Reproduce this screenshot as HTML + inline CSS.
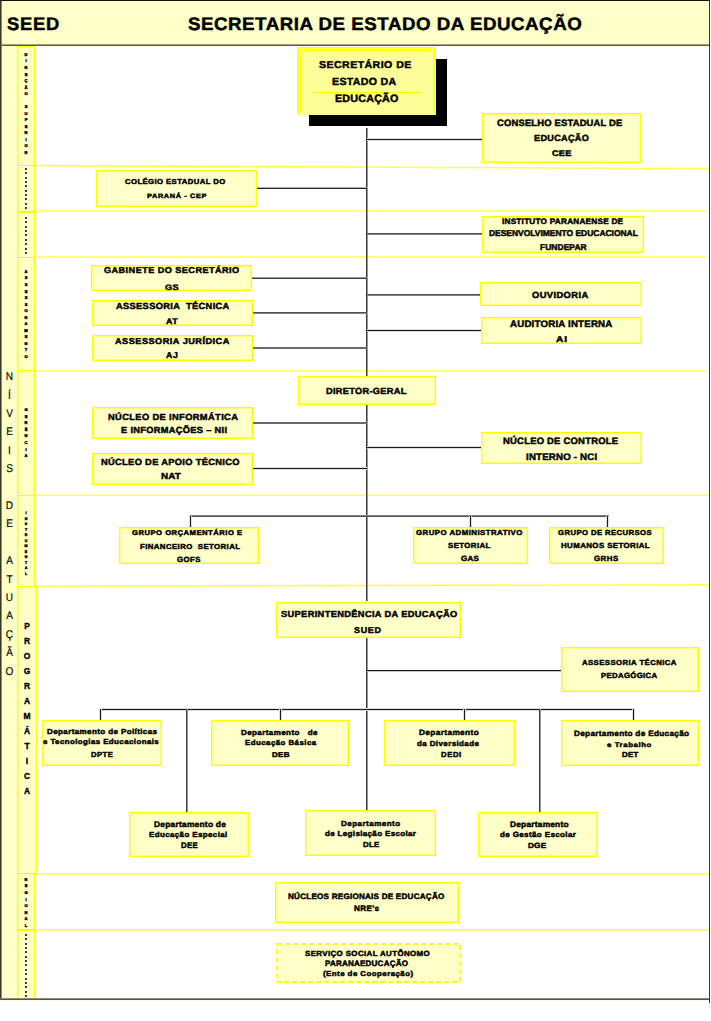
<!DOCTYPE html>
<html><head><meta charset="utf-8"><style>
*{margin:0;padding:0;box-sizing:border-box}
html,body{width:711px;height:1021px;background:#fff;overflow:hidden;position:relative;font-family:"Liberation Sans",sans-serif}
.frame{position:absolute;left:0;top:0;width:710px;height:998px;border-left:1px solid #3a3a28;border-top:1px solid #111;border-right:1px solid #333}
.fb1{position:absolute;left:0;top:998px;width:709px;height:1px;background:#8c8c80}
.fb2{position:absolute;left:0;top:999px;width:709px;height:1px;background:#55554a}
.fb3{position:absolute;left:1px;top:1000px;width:708px;height:1px;background:#fbfbe4}
.fr2{position:absolute;left:709px;top:998px;width:1px;height:5px;background:#333}
.hdr{position:absolute;left:1px;top:1px;width:708px;height:43px;background:#FFFFC8}
.hdrline{position:absolute;left:1px;top:44px;width:708px;height:2px;background:linear-gradient(#a4a47e 50%,#5e5e28 50%)}
.lcol{position:absolute;left:1px;top:46px;width:34px;height:953px;background:#FFFFC8}
.cb{position:absolute;left:17px;width:18px;background:#FFFFC8;border:1px solid #FFFF00;box-shadow:inset 1px 0 0 0 rgba(255,255,0,0.45)}
.b{position:absolute;background:#FFFFC8;border:1px solid #FFFF00;box-shadow:inset 0 0 0 1px rgba(255,255,0,0.45)}
.b.sec{background:#FFFF99;border:2px solid #FFFF28;border-bottom:none;box-shadow:none}
.si{position:absolute;background:#FFFF10}
.b.dash{border:2px dashed #FFFF00;box-shadow:none}
.shadow{position:absolute;left:309px;top:59px;width:138px;height:67px;background:#000}
.ln{position:absolute;background:#262626}
.bands{position:absolute;left:0;top:0}
.t{position:absolute;white-space:nowrap;font-weight:bold;color:#000;transform-origin:0 0;text-rendering:geometricPrecision;-webkit-text-stroke:0.45px #000}
.lv{position:absolute;left:5px;width:9px;text-align:center;color:#000;transform:scaleX(0.9);text-rendering:geometricPrecision;-webkit-text-stroke:0.15px #000}
.lf2{position:absolute;left:1px;top:1px;width:1px;height:998px;background:#8c8c66}
.lp{position:absolute;left:22.5px;width:9px;text-align:center;color:#000;font-weight:bold;-webkit-text-stroke:0.35px #000}
.dt{position:absolute;background:#1a1a1a}
.tl{position:absolute;left:21px;width:10px;text-align:center;font-weight:bold;color:#000;text-rendering:geometricPrecision;-webkit-text-stroke:0.4px #000}
</style></head><body>
<div class="hdr"></div>
<div class="lcol"></div>
<div class="cb" style="top:46px;height:120px"></div>
<div class="cb" style="top:165px;height:47px"></div>
<div class="cb" style="top:212px;height:46px"></div>
<div class="cb" style="top:257px;height:114px"></div>
<div class="cb" style="top:370px;height:126px"></div>
<div class="cb" style="top:495px;height:92px"></div>
<div class="cb" style="top:586px;height:288px;width:19.5px"></div>
<div class="cb" style="top:873px;height:57px"></div>
<div class="cb" style="top:930px;height:71px"></div>
<svg class="bands" width="711" height="1021" viewBox="0 0 711 1021">
<line x1="35" y1="165.6" x2="709" y2="168.7" stroke="#FFFF50" stroke-width="1.6"/>
<line x1="35" y1="211" x2="706" y2="211" stroke="#FFFF50" stroke-width="1.6"/>
<line x1="35" y1="257" x2="706" y2="257" stroke="#FFFF50" stroke-width="1.6"/>
<line x1="35" y1="371" x2="706" y2="371" stroke="#FFFF50" stroke-width="1.6"/>
<line x1="35" y1="495.3" x2="709" y2="495.3" stroke="#FFFF50" stroke-width="1.6"/>
<line x1="35" y1="586.3" x2="709" y2="584.7" stroke="#FFFF50" stroke-width="1.6"/>
<line x1="35" y1="874.0" x2="709" y2="874.0" stroke="#FFFF50" stroke-width="1.6"/>
<line x1="35" y1="929.7" x2="709" y2="929.7" stroke="#FFFF50" stroke-width="1.6"/>
</svg>
<div class="shadow"></div>
<div class="ln" style="left:366px;top:128px;width:1px;height:473px;background:#3c3c3c"></div>
<div class="ln" style="left:367px;top:128px;width:1px;height:473px;background:#989898"></div>
<div class="ln" style="left:366px;top:638px;width:1px;height:172px;background:#3c3c3c"></div>
<div class="ln" style="left:367px;top:638px;width:1px;height:172px;background:#989898"></div>
<div class="ln" style="left:367px;top:138px;width:116px;height:1px;background:#dddddd"></div>
<div class="ln" style="left:367px;top:139px;width:116px;height:1px;background:#191919"></div>
<div class="ln" style="left:367px;top:140px;width:116px;height:1px;background:#dddddd"></div>
<div class="ln" style="left:257px;top:187px;width:110px;height:1px;background:#afafaf"></div>
<div class="ln" style="left:257px;top:188px;width:110px;height:1px;background:#252525"></div>
<div class="ln" style="left:367px;top:233px;width:117px;height:1px;background:#535353"></div>
<div class="ln" style="left:367px;top:234px;width:117px;height:1px;background:#818181"></div>
<div class="ln" style="left:252px;top:277px;width:115px;height:1px;background:#989898"></div>
<div class="ln" style="left:252px;top:278px;width:115px;height:1px;background:#3c3c3c"></div>
<div class="ln" style="left:253px;top:312px;width:114px;height:1px;background:#535353"></div>
<div class="ln" style="left:253px;top:313px;width:114px;height:1px;background:#818181"></div>
<div class="ln" style="left:253px;top:347px;width:114px;height:1px;background:#6a6a6a"></div>
<div class="ln" style="left:253px;top:348px;width:114px;height:1px;background:#6a6a6a"></div>
<div class="ln" style="left:367px;top:294px;width:114px;height:1px;background:#535353"></div>
<div class="ln" style="left:367px;top:295px;width:114px;height:1px;background:#818181"></div>
<div class="ln" style="left:367px;top:329px;width:115px;height:1px;background:#dddddd"></div>
<div class="ln" style="left:367px;top:330px;width:115px;height:1px;background:#191919"></div>
<div class="ln" style="left:367px;top:331px;width:115px;height:1px;background:#dddddd"></div>
<div class="ln" style="left:253px;top:422px;width:114px;height:1px;background:#6a6a6a"></div>
<div class="ln" style="left:253px;top:423px;width:114px;height:1px;background:#6a6a6a"></div>
<div class="ln" style="left:253px;top:467px;width:114px;height:1px;background:#dddddd"></div>
<div class="ln" style="left:253px;top:468px;width:114px;height:1px;background:#191919"></div>
<div class="ln" style="left:253px;top:469px;width:114px;height:1px;background:#dddddd"></div>
<div class="ln" style="left:367px;top:446px;width:115px;height:1px;background:#dddddd"></div>
<div class="ln" style="left:367px;top:447px;width:115px;height:1px;background:#191919"></div>
<div class="ln" style="left:367px;top:448px;width:115px;height:1px;background:#dddddd"></div>
<div class="ln" style="left:190px;top:515px;width:419px;height:1px;background:#818181"></div>
<div class="ln" style="left:190px;top:516px;width:419px;height:1px;background:#535353"></div>
<div class="ln" style="left:189px;top:516px;width:1px;height:11px;background:#dddddd"></div>
<div class="ln" style="left:190px;top:516px;width:1px;height:11px;background:#191919"></div>
<div class="ln" style="left:191px;top:516px;width:1px;height:11px;background:#dddddd"></div>
<div class="ln" style="left:469px;top:516px;width:1px;height:11px;background:#dddddd"></div>
<div class="ln" style="left:470px;top:516px;width:1px;height:11px;background:#191919"></div>
<div class="ln" style="left:471px;top:516px;width:1px;height:11px;background:#dddddd"></div>
<div class="ln" style="left:606px;top:516px;width:1px;height:11px;background:#dddddd"></div>
<div class="ln" style="left:607px;top:516px;width:1px;height:11px;background:#191919"></div>
<div class="ln" style="left:608px;top:516px;width:1px;height:11px;background:#dddddd"></div>
<div class="ln" style="left:367px;top:670px;width:195px;height:1px;background:#191919"></div>
<div class="ln" style="left:367px;top:671px;width:195px;height:1px;background:#c6c6c6"></div>
<div class="ln" style="left:100px;top:708px;width:535px;height:1px;background:#dddddd"></div>
<div class="ln" style="left:100px;top:709px;width:535px;height:1px;background:#191919"></div>
<div class="ln" style="left:100px;top:710px;width:535px;height:1px;background:#dddddd"></div>
<div class="ln" style="left:99px;top:709px;width:1px;height:11px;background:#dddddd"></div>
<div class="ln" style="left:100px;top:709px;width:1px;height:11px;background:#191919"></div>
<div class="ln" style="left:101px;top:709px;width:1px;height:11px;background:#dddddd"></div>
<div class="ln" style="left:279px;top:709px;width:1px;height:11px;background:#dddddd"></div>
<div class="ln" style="left:280px;top:709px;width:1px;height:11px;background:#191919"></div>
<div class="ln" style="left:281px;top:709px;width:1px;height:11px;background:#dddddd"></div>
<div class="ln" style="left:463px;top:709px;width:1px;height:11px;background:#dddddd"></div>
<div class="ln" style="left:464px;top:709px;width:1px;height:11px;background:#191919"></div>
<div class="ln" style="left:465px;top:709px;width:1px;height:11px;background:#dddddd"></div>
<div class="ln" style="left:632px;top:709px;width:1px;height:11px;background:#dddddd"></div>
<div class="ln" style="left:633px;top:709px;width:1px;height:11px;background:#191919"></div>
<div class="ln" style="left:634px;top:709px;width:1px;height:11px;background:#dddddd"></div>
<div class="ln" style="left:186px;top:709px;width:1px;height:103px;background:#3c3c3c"></div>
<div class="ln" style="left:187px;top:709px;width:1px;height:103px;background:#989898"></div>
<div class="ln" style="left:539px;top:709px;width:1px;height:103px;background:#3c3c3c"></div>
<div class="ln" style="left:540px;top:709px;width:1px;height:103px;background:#989898"></div>
<div class="b sec" style="left:297px;top:47px;width:139px;height:68px"></div>
<div class="b std" style="left:482px;top:113px;width:159px;height:50px"></div>
<div class="b std" style="left:96px;top:170px;width:161px;height:37px"></div>
<div class="b std" style="left:482px;top:216px;width:162px;height:37px"></div>
<div class="b std" style="left:91px;top:265px;width:161px;height:26px"></div>
<div class="b std" style="left:92px;top:300px;width:161px;height:26px"></div>
<div class="b std" style="left:92px;top:335px;width:161px;height:26px"></div>
<div class="b std" style="left:480px;top:282px;width:162px;height:24px"></div>
<div class="b std" style="left:481px;top:317px;width:161px;height:27px"></div>
<div class="b std" style="left:298px;top:376px;width:138px;height:29px"></div>
<div class="b std" style="left:92px;top:407px;width:161px;height:32px"></div>
<div class="b std" style="left:92px;top:453px;width:161px;height:32px"></div>
<div class="b std" style="left:481px;top:432px;width:161px;height:32px"></div>
<div class="b std" style="left:119px;top:527px;width:140px;height:37px"></div>
<div class="b std" style="left:413px;top:527px;width:115px;height:37px"></div>
<div class="b std" style="left:549px;top:527px;width:115px;height:37px"></div>
<div class="b std" style="left:276px;top:602px;width:185px;height:36px"></div>
<div class="b std" style="left:561px;top:647px;width:138px;height:45px"></div>
<div class="b std" style="left:42px;top:720px;width:120px;height:46px"></div>
<div class="b std" style="left:211px;top:720px;width:138px;height:46px"></div>
<div class="b std" style="left:384px;top:720px;width:131px;height:46px"></div>
<div class="b std" style="left:561px;top:720px;width:138px;height:46px"></div>
<div class="b std" style="left:129px;top:812px;width:120px;height:45px"></div>
<div class="b std" style="left:305px;top:810px;width:131px;height:46px"></div>
<div class="b std" style="left:478px;top:812px;width:120px;height:45px"></div>
<div class="b std" style="left:275px;top:882px;width:184px;height:41px"></div>
<svg style="position:absolute;left:276px;top:943px" width="185" height="40"><rect x="1" y="1" width="183" height="38" fill="#FFFFC8" stroke="#FFFF00" stroke-width="1.8" stroke-dasharray="5 3"/></svg>
<div class="secline" style="position:absolute;left:312px;top:92px;width:110px;height:1px;background:#FFFF00"></div>
<div class="si" style="left:300px;top:50px;width:134px;height:1px"></div>
<div class="si" style="left:300px;top:50px;width:1px;height:62px"></div>
<div class="si" style="left:433px;top:50px;width:1px;height:62px"></div>
<div class="lv" style="top:372.10px;font-size:11.19px;line-height:11.19px">N</div>
<div class="lv" style="top:390.50px;font-size:11.19px;line-height:11.19px">Í</div>
<div class="lv" style="top:408.90px;font-size:11.19px;line-height:11.19px">V</div>
<div class="lv" style="top:427.30px;font-size:11.19px;line-height:11.19px">E</div>
<div class="lv" style="top:445.70px;font-size:11.19px;line-height:11.19px">I</div>
<div class="lv" style="top:464.10px;font-size:11.19px;line-height:11.19px">S</div>
<div class="lv" style="top:500.90px;font-size:11.19px;line-height:11.19px">D</div>
<div class="lv" style="top:519.30px;font-size:11.19px;line-height:11.19px">E</div>
<div class="lv" style="top:556.10px;font-size:11.19px;line-height:11.19px">A</div>
<div class="lv" style="top:574.50px;font-size:11.19px;line-height:11.19px">T</div>
<div class="lv" style="top:592.90px;font-size:11.19px;line-height:11.19px">U</div>
<div class="lv" style="top:611.30px;font-size:11.19px;line-height:11.19px">A</div>
<div class="lv" style="top:629.70px;font-size:11.19px;line-height:11.19px">Ç</div>
<div class="lv" style="top:648.10px;font-size:11.19px;line-height:11.19px">Ã</div>
<div class="lv" style="top:666.50px;font-size:11.19px;line-height:11.19px">O</div>
<div class="lp" style="top:622.40px;font-size:8.43px;line-height:8.43px">P</div>
<div class="lp" style="top:637.40px;font-size:8.43px;line-height:8.43px">R</div>
<div class="lp" style="top:652.40px;font-size:8.43px;line-height:8.43px">O</div>
<div class="lp" style="top:667.40px;font-size:8.43px;line-height:8.43px">G</div>
<div class="lp" style="top:682.40px;font-size:8.43px;line-height:8.43px">R</div>
<div class="lp" style="top:697.40px;font-size:8.43px;line-height:8.43px">A</div>
<div class="lp" style="top:712.40px;font-size:8.43px;line-height:8.43px">M</div>
<div class="lp" style="top:727.40px;font-size:8.43px;line-height:8.43px">Á</div>
<div class="lp" style="top:742.40px;font-size:8.43px;line-height:8.43px">T</div>
<div class="lp" style="top:757.40px;font-size:8.43px;line-height:8.43px">I</div>
<div class="lp" style="top:772.40px;font-size:8.43px;line-height:8.43px">C</div>
<div class="lp" style="top:787.40px;font-size:8.43px;line-height:8.43px">A</div>
<div class="tl" style="top:52.95px;font-size:4.1px;line-height:4.1px">D</div>
<div class="tl" style="top:59.48px;font-size:4.1px;line-height:4.1px">I</div>
<div class="tl" style="top:66.01px;font-size:4.1px;line-height:4.1px">R</div>
<div class="tl" style="top:72.54px;font-size:4.1px;line-height:4.1px">E</div>
<div class="tl" style="top:79.07px;font-size:4.1px;line-height:4.1px">Ç</div>
<div class="tl" style="top:85.60px;font-size:4.1px;line-height:4.1px">Ã</div>
<div class="tl" style="top:92.13px;font-size:4.1px;line-height:4.1px">O</div>
<div class="tl" style="top:105.19px;font-size:4.1px;line-height:4.1px">S</div>
<div class="tl" style="top:111.72px;font-size:4.1px;line-height:4.1px">U</div>
<div class="tl" style="top:118.25px;font-size:4.1px;line-height:4.1px">P</div>
<div class="tl" style="top:124.78px;font-size:4.1px;line-height:4.1px">E</div>
<div class="tl" style="top:131.31px;font-size:4.1px;line-height:4.1px">R</div>
<div class="tl" style="top:137.84px;font-size:4.1px;line-height:4.1px">I</div>
<div class="tl" style="top:144.37px;font-size:4.1px;line-height:4.1px">O</div>
<div class="tl" style="top:150.90px;font-size:4.1px;line-height:4.1px">R</div>
<div class="tl" style="top:269.95px;font-size:4.1px;line-height:4.1px">A</div>
<div class="tl" style="top:276.47px;font-size:4.1px;line-height:4.1px">S</div>
<div class="tl" style="top:282.99px;font-size:4.1px;line-height:4.1px">S</div>
<div class="tl" style="top:289.51px;font-size:4.1px;line-height:4.1px">E</div>
<div class="tl" style="top:296.03px;font-size:4.1px;line-height:4.1px">S</div>
<div class="tl" style="top:302.55px;font-size:4.1px;line-height:4.1px">S</div>
<div class="tl" style="top:309.07px;font-size:4.1px;line-height:4.1px">O</div>
<div class="tl" style="top:315.59px;font-size:4.1px;line-height:4.1px">R</div>
<div class="tl" style="top:322.11px;font-size:4.1px;line-height:4.1px">A</div>
<div class="tl" style="top:328.63px;font-size:4.1px;line-height:4.1px">M</div>
<div class="tl" style="top:335.15px;font-size:4.1px;line-height:4.1px">E</div>
<div class="tl" style="top:341.67px;font-size:4.1px;line-height:4.1px">N</div>
<div class="tl" style="top:348.19px;font-size:4.1px;line-height:4.1px">T</div>
<div class="tl" style="top:354.71px;font-size:4.1px;line-height:4.1px">O</div>
<div class="tl" style="top:408.05px;font-size:4.1px;line-height:4.1px">G</div>
<div class="tl" style="top:414.65px;font-size:4.1px;line-height:4.1px">E</div>
<div class="tl" style="top:421.25px;font-size:4.1px;line-height:4.1px">R</div>
<div class="tl" style="top:427.85px;font-size:4.1px;line-height:4.1px">Ê</div>
<div class="tl" style="top:434.45px;font-size:4.1px;line-height:4.1px">N</div>
<div class="tl" style="top:441.05px;font-size:4.1px;line-height:4.1px">C</div>
<div class="tl" style="top:447.65px;font-size:4.1px;line-height:4.1px">I</div>
<div class="tl" style="top:454.25px;font-size:4.1px;line-height:4.1px">A</div>
<div class="tl" style="top:512.30px;font-size:3.6px;line-height:3.6px">I</div>
<div class="tl" style="top:517.78px;font-size:3.6px;line-height:3.6px">N</div>
<div class="tl" style="top:523.26px;font-size:3.6px;line-height:3.6px">S</div>
<div class="tl" style="top:528.74px;font-size:3.6px;line-height:3.6px">T</div>
<div class="tl" style="top:534.22px;font-size:3.6px;line-height:3.6px">R</div>
<div class="tl" style="top:539.70px;font-size:3.6px;line-height:3.6px">U</div>
<div class="tl" style="top:545.18px;font-size:3.6px;line-height:3.6px">M</div>
<div class="tl" style="top:550.66px;font-size:3.6px;line-height:3.6px">E</div>
<div class="tl" style="top:556.14px;font-size:3.6px;line-height:3.6px">N</div>
<div class="tl" style="top:561.62px;font-size:3.6px;line-height:3.6px">T</div>
<div class="tl" style="top:567.10px;font-size:3.6px;line-height:3.6px">A</div>
<div class="tl" style="top:572.58px;font-size:3.6px;line-height:3.6px">L</div>
<div class="tl" style="top:877.85px;font-size:4.1px;line-height:4.1px">R</div>
<div class="tl" style="top:884.45px;font-size:4.1px;line-height:4.1px">E</div>
<div class="tl" style="top:891.05px;font-size:4.1px;line-height:4.1px">G</div>
<div class="tl" style="top:897.65px;font-size:4.1px;line-height:4.1px">I</div>
<div class="tl" style="top:904.25px;font-size:4.1px;line-height:4.1px">O</div>
<div class="tl" style="top:910.85px;font-size:4.1px;line-height:4.1px">N</div>
<div class="tl" style="top:917.45px;font-size:4.1px;line-height:4.1px">A</div>
<div class="tl" style="top:924.05px;font-size:4.1px;line-height:4.1px">L</div>
<div class="dt" style="top:168px;width:2px;height:2px;left:25.00px;background:#3c3c3c"></div>
<div class="dt" style="top:172px;width:2px;height:2px;left:25.00px;background:#3c3c3c"></div>
<div class="dt" style="top:177px;width:2px;height:2px;left:25.00px;background:#3c3c3c"></div>
<div class="dt" style="top:181px;width:2px;height:2px;left:25.00px;background:#3c3c3c"></div>
<div class="dt" style="top:185px;width:2px;height:2px;left:25.00px;background:#3c3c3c"></div>
<div class="dt" style="top:190px;width:2px;height:2px;left:25.00px;background:#3c3c3c"></div>
<div class="dt" style="top:194px;width:2px;height:2px;left:25.00px;background:#3c3c3c"></div>
<div class="dt" style="top:198px;width:2px;height:2px;left:25.00px;background:#3c3c3c"></div>
<div class="dt" style="top:203px;width:2px;height:2px;left:25.00px;background:#3c3c3c"></div>
<div class="dt" style="top:207px;width:2px;height:2px;left:25.00px;background:#3c3c3c"></div>
<div class="dt" style="top:217px;width:2px;height:2px;left:25.00px;background:#3c3c3c"></div>
<div class="dt" style="top:221px;width:2px;height:2px;left:25.00px;background:#3c3c3c"></div>
<div class="dt" style="top:226px;width:2px;height:2px;left:25.00px;background:#3c3c3c"></div>
<div class="dt" style="top:230px;width:2px;height:2px;left:25.00px;background:#3c3c3c"></div>
<div class="dt" style="top:234px;width:2px;height:2px;left:25.00px;background:#3c3c3c"></div>
<div class="dt" style="top:239px;width:2px;height:2px;left:25.00px;background:#3c3c3c"></div>
<div class="dt" style="top:243px;width:2px;height:2px;left:25.00px;background:#3c3c3c"></div>
<div class="dt" style="top:248px;width:2px;height:2px;left:25.00px;background:#3c3c3c"></div>
<div class="dt" style="top:252px;width:2px;height:2px;left:25.00px;background:#3c3c3c"></div>
<div class="dt" style="top:934px;width:2px;height:2px;left:25.00px;background:#3c3c3c"></div>
<div class="dt" style="top:938px;width:2px;height:2px;left:25.00px;background:#3c3c3c"></div>
<div class="dt" style="top:943px;width:2px;height:2px;left:25.00px;background:#3c3c3c"></div>
<div class="dt" style="top:947px;width:2px;height:2px;left:25.00px;background:#3c3c3c"></div>
<div class="dt" style="top:951px;width:2px;height:2px;left:25.00px;background:#3c3c3c"></div>
<div class="dt" style="top:956px;width:2px;height:2px;left:25.00px;background:#3c3c3c"></div>
<div class="dt" style="top:960px;width:2px;height:2px;left:25.00px;background:#3c3c3c"></div>
<div class="dt" style="top:964px;width:2px;height:2px;left:25.00px;background:#3c3c3c"></div>
<div class="dt" style="top:969px;width:2px;height:2px;left:25.00px;background:#3c3c3c"></div>
<div class="dt" style="top:973px;width:2px;height:2px;left:25.00px;background:#3c3c3c"></div>
<div class="dt" style="top:978px;width:2px;height:2px;left:25.00px;background:#3c3c3c"></div>
<div class="dt" style="top:982px;width:2px;height:2px;left:25.00px;background:#3c3c3c"></div>
<div class="dt" style="top:986px;width:2px;height:2px;left:25.00px;background:#3c3c3c"></div>
<div class="dt" style="top:991px;width:2px;height:2px;left:25.00px;background:#3c3c3c"></div>
<div class="dt" style="top:995px;width:2px;height:2px;left:25.00px;background:#3c3c3c"></div>
<div class="t" id="t0" style="left:6.64px;top:15.36px;font-size:18.02px;line-height:18.02px;letter-spacing:0.708px;transform:scaleX(1.0213)">SEED</div>
<div class="t" id="t1" style="left:187.52px;top:15.36px;font-size:18.02px;line-height:18.02px;letter-spacing:0.494px;transform:scaleX(1.0399)">SECRETARIA DE ESTADO DA EDUCAÇÃO</div>
<div class="t" id="t2" style="left:318.83px;top:61.11px;font-size:9.98px;line-height:9.98px;letter-spacing:0.427px;transform:scaleX(1.0593)">SECRETÁRIO DE</div>
<div class="t" id="t3" style="left:332.38px;top:78.20px;font-size:10.30px;line-height:10.30px;letter-spacing:0.314px;transform:scaleX(1.0294)">ESTADO DA</div>
<div class="t" id="t4" style="left:334.90px;top:93.74px;font-size:10.65px;line-height:10.65px;letter-spacing:0.194px;transform:scaleX(1.0090)">EDUCAÇÃO</div>
<div class="t" id="t5" style="left:497.02px;top:118.96px;font-size:9.21px;line-height:9.21px;letter-spacing:0.171px;transform:scaleX(1.0229)">CONSELHO ESTADUAL DE</div>
<div class="t" id="t6" style="left:533.91px;top:133.91px;font-size:8.85px;line-height:8.85px;letter-spacing:0.319px;transform:scaleX(1.0281)">EDUCAÇÃO</div>
<div class="t" id="t7" style="left:551.95px;top:149.53px;font-size:8.21px;line-height:8.21px;letter-spacing:0.155px;transform:scaleX(1.1261)">CEE</div>
<div class="t" id="t8" style="left:124.79px;top:179.36px;font-size:7.13px;line-height:7.13px;letter-spacing:0.386px;transform:scaleX(1.0818)">COLÉGIO ESTADUAL DO</div>
<div class="t" id="t9" style="left:147.27px;top:194.03px;font-size:6.36px;line-height:6.36px;letter-spacing:0.576px;transform:scaleX(1.1445)">PARANÁ - CEP</div>
<div class="t" id="t10" style="left:501.70px;top:218.10px;font-size:7.86px;line-height:7.86px;letter-spacing:0.232px;transform:scaleX(1.0416)">INSTITUTO PARANAENSE DE</div>
<div class="t" id="t11" style="left:488.53px;top:229.39px;font-size:8.51px;line-height:8.51px;letter-spacing:-0.012px;transform:scaleX(0.9954)">DESENVOLVIMENTO EDUCACIONAL</div>
<div class="t" id="t12" style="left:539.97px;top:243.11px;font-size:8.51px;line-height:8.51px;letter-spacing:0.054px;transform:scaleX(0.9933)">FUNDEPAR</div>
<div class="t" id="t13" style="left:103.81px;top:266.38px;font-size:8.52px;line-height:8.52px;letter-spacing:0.412px;transform:scaleX(1.0726)">GABINETE DO SECRETÁRIO</div>
<div class="t" id="t14" style="left:164.85px;top:283.53px;font-size:8.04px;line-height:8.04px;letter-spacing:0.416px;transform:scaleX(1.1443)">GS</div>
<div class="t" id="t15" style="left:115.66px;top:302.07px;font-size:8.82px;line-height:8.82px;letter-spacing:0.318px;transform:scaleX(1.0533)">ASSESSORIA  TÉCNICA</div>
<div class="t" id="t16" style="left:165.99px;top:317.58px;font-size:8.05px;line-height:8.05px;letter-spacing:0.505px;transform:scaleX(1.1046)">AT</div>
<div class="t" id="t17" style="left:114.55px;top:337.33px;font-size:8.51px;line-height:8.51px;letter-spacing:0.434px;transform:scaleX(1.0811)">ASSESSORIA JURÍDICA</div>
<div class="t" id="t18" style="left:165.98px;top:351.39px;font-size:8.51px;line-height:8.51px;letter-spacing:0.731px;transform:scaleX(1.0280)">AJ</div>
<div class="t" id="t19" style="left:532.28px;top:290.89px;font-size:8.87px;line-height:8.87px;letter-spacing:0.385px;transform:scaleX(1.0542)">OUVIDORIA</div>
<div class="t" id="t20" style="left:509.98px;top:320.09px;font-size:9.48px;line-height:9.48px;letter-spacing:0.186px;transform:scaleX(1.0253)">AUDITORIA INTERNA</div>
<div class="t" id="t21" style="left:555.83px;top:334.82px;font-size:8.52px;line-height:8.52px;letter-spacing:0.769px;transform:scaleX(1.1973)">AI</div>
<div class="t" id="t22" style="left:326.35px;top:387.03px;font-size:8.87px;line-height:8.87px;letter-spacing:0.291px;transform:scaleX(1.0416)">DIRETOR-GERAL</div>
<div class="t" id="t23" style="left:107.70px;top:413.07px;font-size:8.82px;line-height:8.82px;letter-spacing:0.350px;transform:scaleX(1.0558)">NÚCLEO DE INFORMÁTICA</div>
<div class="t" id="t24" style="left:120.57px;top:426.49px;font-size:8.82px;line-height:8.82px;letter-spacing:0.303px;transform:scaleX(1.0508)">E INFORMAÇÕES – NII</div>
<div class="t" id="t25" style="left:101.43px;top:458.05px;font-size:8.85px;line-height:8.85px;letter-spacing:0.309px;transform:scaleX(1.0512)">NÚCLEO DE APOIO TÉCNICO</div>
<div class="t" id="t26" style="left:161.48px;top:472.02px;font-size:8.78px;line-height:8.78px;letter-spacing:0.073px;transform:scaleX(1.1220)">NAT</div>
<div class="t" id="t27" style="left:502.63px;top:436.96px;font-size:9.21px;line-height:9.21px;letter-spacing:0.217px;transform:scaleX(1.0266)">NÚCLEO DE CONTROLE</div>
<div class="t" id="t28" style="left:525.50px;top:452.67px;font-size:9.48px;line-height:9.48px;letter-spacing:0.196px;transform:scaleX(1.0214)">INTERNO - NCI</div>
<div class="t" id="t29" style="left:132.25px;top:531.32px;font-size:6.95px;line-height:6.95px;letter-spacing:0.457px;transform:scaleX(1.1004)">GRUPO ORÇAMENTÁRIO E</div>
<div class="t" id="t30" style="left:139.60px;top:543.58px;font-size:7.13px;line-height:7.13px;letter-spacing:0.392px;transform:scaleX(1.0913)">FINANCEIRO  SETORIAL</div>
<div class="t" id="t31" style="left:177.25px;top:555.55px;font-size:7.40px;line-height:7.40px;letter-spacing:0.493px;transform:scaleX(1.0503)">GOFS</div>
<div class="t" id="t32" style="left:416.04px;top:529.55px;font-size:7.14px;line-height:7.14px;letter-spacing:0.438px;transform:scaleX(1.0963)">GRUPO ADMINISTRATIVO</div>
<div class="t" id="t33" style="left:448.37px;top:542.31px;font-size:7.42px;line-height:7.42px;letter-spacing:0.376px;transform:scaleX(1.0613)">SETORIAL</div>
<div class="t" id="t34" style="left:461.01px;top:555.17px;font-size:7.43px;line-height:7.43px;letter-spacing:0.209px;transform:scaleX(1.0762)">GAS</div>
<div class="t" id="t35" style="left:558.27px;top:529.54px;font-size:7.15px;line-height:7.15px;letter-spacing:0.398px;transform:scaleX(1.0776)">GRUPO DE RECURSOS</div>
<div class="t" id="t36" style="left:560.71px;top:542.31px;font-size:7.42px;line-height:7.42px;letter-spacing:0.367px;transform:scaleX(1.0669)">HUMANOS SETORIAL</div>
<div class="t" id="t37" style="left:594.14px;top:555.16px;font-size:7.44px;line-height:7.44px;letter-spacing:0.486px;transform:scaleX(1.0537)">GRHS</div>
<div class="t" id="t38" style="left:280.55px;top:610.02px;font-size:8.78px;line-height:8.78px;letter-spacing:0.338px;transform:scaleX(1.0565)">SUPERINTENDÊNCIA DA EDUCAÇÃO</div>
<div class="t" id="t39" style="left:353.57px;top:625.61px;font-size:8.51px;line-height:8.51px;letter-spacing:0.660px;transform:scaleX(1.0539)">SUED</div>
<div class="t" id="t40" style="left:582.27px;top:660.36px;font-size:7.13px;line-height:7.13px;letter-spacing:0.404px;transform:scaleX(1.0858)">ASSESSORIA TÉCNICA</div>
<div class="t" id="t41" style="left:601.25px;top:672.31px;font-size:7.42px;line-height:7.42px;letter-spacing:0.333px;transform:scaleX(1.0470)">PEDAGÓGICA</div>
<div class="t" id="t42" style="left:47.03px;top:728.31px;font-size:7.42px;line-height:7.42px;letter-spacing:0.343px;transform:scaleX(1.0862)">Departamento de Políticas</div>
<div class="t" id="t43" style="left:43.25px;top:739.42px;font-size:7.13px;line-height:7.13px;letter-spacing:0.387px;transform:scaleX(1.1065)">e Tecnologias Educacionais</div>
<div class="t" id="t44" style="left:90.82px;top:750.89px;font-size:7.42px;line-height:7.42px;letter-spacing:0.451px;transform:scaleX(1.0384)">DPTE</div>
<div class="t" id="t45" style="left:240.71px;top:728.55px;font-size:7.40px;line-height:7.40px;letter-spacing:0.361px;transform:scaleX(1.0882)">Departamento   de</div>
<div class="t" id="t46" style="left:245.30px;top:740.22px;font-size:7.13px;line-height:7.13px;letter-spacing:0.419px;transform:scaleX(1.1033)">Educação Básica</div>
<div class="t" id="t47" style="left:271.73px;top:752.54px;font-size:6.95px;line-height:6.95px;letter-spacing:0.285px;transform:scaleX(1.1532)">DEB</div>
<div class="t" id="t48" style="left:419.37px;top:729.19px;font-size:7.76px;line-height:7.76px;letter-spacing:0.350px;transform:scaleX(1.0665)">Departamento</div>
<div class="t" id="t49" style="left:417.45px;top:739.67px;font-size:7.42px;line-height:7.42px;letter-spacing:0.350px;transform:scaleX(1.0813)">da Diversidade</div>
<div class="t" id="t50" style="left:440.71px;top:750.67px;font-size:7.42px;line-height:7.42px;letter-spacing:0.534px;transform:scaleX(1.0468)">DEDI</div>
<div class="t" id="t51" style="left:573.71px;top:729.97px;font-size:7.76px;line-height:7.76px;letter-spacing:0.278px;transform:scaleX(1.0604)">Departamento de Educação</div>
<div class="t" id="t52" style="left:607.03px;top:742.93px;font-size:6.74px;line-height:6.74px;letter-spacing:0.530px;transform:scaleX(1.1510)">e Trabalho</div>
<div class="t" id="t53" style="left:622.37px;top:750.67px;font-size:7.42px;line-height:7.42px;letter-spacing:0.197px;transform:scaleX(1.0710)">DET</div>
<div class="t" id="t54" style="left:153.79px;top:821.16px;font-size:8.05px;line-height:8.05px;letter-spacing:0.233px;transform:scaleX(1.0415)">Departamento de</div>
<div class="t" id="t55" style="left:149.37px;top:830.53px;font-size:7.42px;line-height:7.42px;letter-spacing:0.353px;transform:scaleX(1.0755)">Educação Especial</div>
<div class="t" id="t56" style="left:181.13px;top:841.95px;font-size:8.04px;line-height:8.04px;letter-spacing:0.246px;transform:scaleX(0.9801)">DEE</div>
<div class="t" id="t57" style="left:340.71px;top:819.67px;font-size:7.42px;line-height:7.42px;letter-spacing:0.422px;transform:scaleX(1.0850)">Departamento</div>
<div class="t" id="t58" style="left:325.00px;top:830.03px;font-size:7.42px;line-height:7.42px;letter-spacing:0.309px;transform:scaleX(1.0829)">de Legislação Escolar</div>
<div class="t" id="t59" style="left:363.15px;top:840.53px;font-size:7.42px;line-height:7.42px;letter-spacing:0.287px;transform:scaleX(1.0643)">DLE</div>
<div class="t" id="t60" style="left:509.69px;top:821.17px;font-size:8.04px;line-height:8.04px;letter-spacing:0.228px;transform:scaleX(1.0357)">Departamento</div>
<div class="t" id="t61" style="left:499.53px;top:830.53px;font-size:7.42px;line-height:7.42px;letter-spacing:0.330px;transform:scaleX(1.0852)">de Gestão Escolar</div>
<div class="t" id="t62" style="left:528.25px;top:841.69px;font-size:7.40px;line-height:7.40px;letter-spacing:0.205px;transform:scaleX(1.1042)">DGE</div>
<div class="t" id="t63" style="left:288.36px;top:893.46px;font-size:7.86px;line-height:7.86px;letter-spacing:0.202px;transform:scaleX(1.0347)">NÚCLEOS REGIONAIS DE EDUCAÇÃO</div>
<div class="t" id="t64" style="left:354.26px;top:905.38px;font-size:7.86px;line-height:7.86px;letter-spacing:0.313px;transform:scaleX(1.0365)">NRE's</div>
<div class="t" id="t65" style="left:305.27px;top:949.53px;font-size:7.43px;line-height:7.43px;letter-spacing:0.347px;transform:scaleX(1.0678)">SERVIÇO SOCIAL AUTÔNOMO</div>
<div class="t" id="t66" style="left:325.24px;top:960.16px;font-size:7.86px;line-height:7.86px;letter-spacing:0.197px;transform:scaleX(1.0237)">PARANAEDUCAÇÃO</div>
<div class="t" id="t67" style="left:323.49px;top:971.36px;font-size:7.13px;line-height:7.13px;letter-spacing:0.411px;transform:scaleX(1.1062)">(Ente de Cooperação)</div>
<div class="hdrline"></div>
<div class="frame"></div>
<div class="fb1"></div><div class="fb2"></div><div class="fb3"></div><div class="fr2"></div>
<div class="lf2"></div>
</body></html>
